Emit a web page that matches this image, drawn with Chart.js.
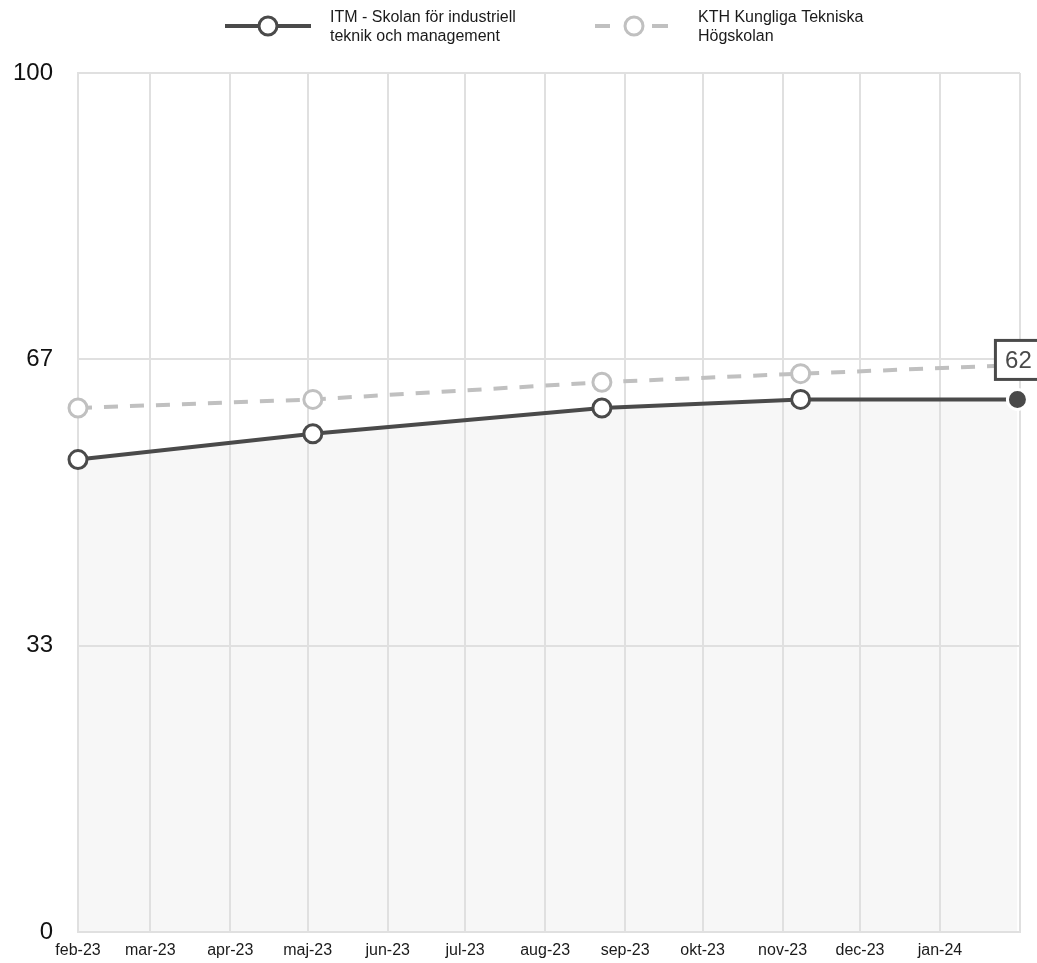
<!DOCTYPE html>
<html>
<head>
    <meta charset="utf-8" />
    <title>ITM vs KTH</title>
    <script src="https://cdn.jsdelivr.net/npm/chart.js"></script>
    <style>
        body { margin: 0; background: #fff; font-family: "Liberation Sans", Arial, sans-serif; overflow: hidden; }
        canvas { display: block; }
    </style>
</head>
<body>
    <canvas id="myChart" width="1037" height="963"></canvas>
    <script>
        // month ticks as days since 2023-02-01
        var monthTicks = [0, 28, 59, 89, 120, 150, 181, 212, 242, 273, 303, 334];
        var monthLabels = ['feb-23', 'mar-23', 'apr-23', 'maj-23', 'jun-23', 'jul-23', 'aug-23', 'sep-23', 'okt-23', 'nov-23', 'dec-23', 'jan-24'];
        var yTicks = [0, 100 / 3, 200 / 3, 100];

        var seriesNames = [
            ['ITM - Skolan för industriell', 'teknik och management'],
            ['KTH Kungliga Tekniska', 'Högskolan']
        ];
        var itmDays = [0, 91, 203, 280, 364];
        var itmValues = [55, 58, 61, 62, 62];
        var kthDays = [0, 91, 203, 280, 364];
        var kthValues = [61, 62, 64, 65, 66];

        var dark = '#4a4a4a';
        var light = '#c0c0c0';
        var gridColor = '#e0e0e0';
        var fontFamily = '"Liberation Sans", Arial, sans-serif';

        function toPoints(xs, ys) {
            return xs.map(function (x, i) { return { x: x, y: ys[i] }; });
        }

        // legend drawn on top of the canvas
        var legendPlugin = {
            id: 'customLegend',
            afterDraw: function (chart) {
                var ctx = chart.ctx;
                ctx.save();
                ctx.lineWidth = 4;
                // ITM
                ctx.strokeStyle = dark;
                ctx.beginPath(); ctx.moveTo(225, 26); ctx.lineTo(311, 26); ctx.stroke();
                ctx.beginPath(); ctx.arc(268, 26, 9, 0, Math.PI * 2);
                ctx.fillStyle = '#fff'; ctx.fill(); ctx.lineWidth = 3; ctx.stroke();
                // KTH
                ctx.lineWidth = 4;
                ctx.strokeStyle = light;
                ctx.beginPath(); ctx.moveTo(595, 26); ctx.lineTo(610, 26); ctx.stroke();
                ctx.beginPath(); ctx.moveTo(652, 26); ctx.lineTo(668, 26); ctx.stroke();
                ctx.beginPath(); ctx.arc(634, 26, 9, 0, Math.PI * 2);
                ctx.fillStyle = '#fff'; ctx.fill(); ctx.lineWidth = 3; ctx.stroke();

                ctx.fillStyle = '#1a1a1a';
                ctx.font = '16px ' + fontFamily;
                ctx.textBaseline = 'middle';
                ctx.textAlign = 'left';
                seriesNames[0].forEach(function (t, i) { ctx.fillText(t, 330, 18 + i * 19); });
                seriesNames[1].forEach(function (t, i) { ctx.fillText(t, 698, 18 + i * 19); });
                ctx.restore();
            }
        };

        // box with the latest value above the last ITM point
        var lastValuePlugin = {
            id: 'lastValue',
            afterDatasetsDraw: function (chart) {
                var meta = chart.getDatasetMeta(0);
                var pt = meta.data[meta.data.length - 1];
                var ctx = chart.ctx;
                ctx.save();
                var w = 46, h = 39;
                var bx = pt.x - 22, by = pt.y - 59;
                ctx.fillStyle = '#fff';
                ctx.fillRect(bx, by, w, h);
                ctx.strokeStyle = dark;
                ctx.lineWidth = 3;
                ctx.strokeRect(bx, by, w, h);
                ctx.fillStyle = dark;
                ctx.font = '24px ' + fontFamily;
                ctx.textAlign = 'center';
                ctx.textBaseline = 'middle';
                ctx.fillText(String(itmValues[itmValues.length - 1]), bx + w / 2, by + h / 2 + 1);
                ctx.restore();
            }
        };

        var ctx = document.getElementById('myChart').getContext('2d');
        var myChart = new Chart(ctx, {
            type: 'line',
            data: {
                datasets: [{
                    label: seriesNames[0].join(' '),
                    data: toPoints(itmDays, itmValues),
                    borderColor: dark,
                    borderWidth: 4,
                    fill: 'origin',
                    backgroundColor: '#f7f7f7',
                    tension: 0,
                    clip: false,
                    pointRadius: [9, 9, 9, 9, 10],
                    pointBorderWidth: 3,
                    pointBackgroundColor: ['#fff', '#fff', '#fff', '#fff', dark],
                    pointBorderColor: [dark, dark, dark, dark, '#fff'],
                    order: 0
                }, {
                    label: seriesNames[1].join(' '),
                    data: toPoints(kthDays, kthValues),
                    borderColor: light,
                    borderWidth: 4,
                    borderDash: [14, 12],
                    fill: false,
                    tension: 0,
                    clip: false,
                    pointRadius: 9,
                    pointBorderWidth: 3,
                    pointBackgroundColor: '#fff',
                    pointBorderColor: light,
                    order: 1
                }]
            },
            options: {
                responsive: false,
                devicePixelRatio: 1,
                animation: false,
                layout: { padding: { top: 73, right: 17, bottom: 0, left: 0 } },
                plugins: {
                    legend: { display: false },
                    tooltip: { enabled: false },
                    filler: { drawTime: 'beforeDraw' }
                },
                scales: {
                    x: {
                        type: 'linear',
                        min: 0,
                        max: 365,
                        afterBuildTicks: function (scale) {
                            scale.ticks = monthTicks.concat([365]).map(function (v) { return { value: v }; });
                        },
                        afterFit: function (scale) { scale.height = 31; },
                        ticks: {
                            autoSkip: false,
                            maxRotation: 0,
                            padding: 9,
                            color: '#1a1a1a',
                            font: { family: fontFamily, size: 16 },
                            callback: function (value) {
                                var i = monthTicks.indexOf(value);
                                return i >= 0 ? monthLabels[i] : '';
                            }
                        },
                        grid: { color: gridColor, lineWidth: 2, drawTicks: false },
                        border: { color: gridColor, width: 2 }
                    },
                    y: {
                        min: 0,
                        max: 100,
                        afterBuildTicks: function (scale) {
                            scale.ticks = yTicks.map(function (v) { return { value: v }; });
                        },
                        afterFit: function (scale) {
                            scale.width = 78;
                            scale.paddingTop = 0;
                            scale.paddingBottom = 0;
                        },
                        ticks: {
                            padding: 25,
                            color: '#111',
                            font: { family: fontFamily, size: 24 },
                            callback: function (value) { return Math.round(value); }
                        },
                        grid: { color: gridColor, lineWidth: 2, drawTicks: false },
                        border: { color: gridColor, width: 2 }
                    }
                }
            },
            plugins: [legendPlugin, lastValuePlugin]
        });
    </script>
</body>
</html>
